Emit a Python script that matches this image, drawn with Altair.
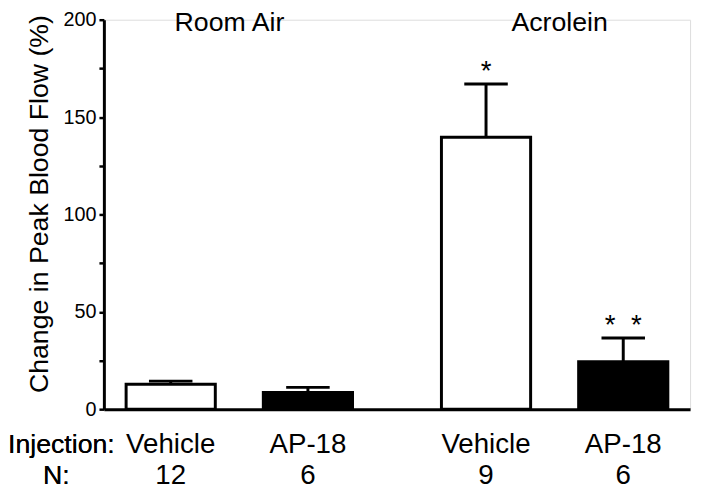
import altair as alt
import pandas as pd

# ---- data ----
groups = ["Room Air", "Room Air", "Acrolein", "Acrolein"]
treatments = ["Vehicle", "AP-18", "Vehicle", "AP-18"]
means = [12.8, 8.6, 139.6, 24.4]
sems = [1.6, 2.6, 27.4, 12.1]
n_values = ["12", "6", "9", "6"]
significance = ["", "", "*", "*\u00a0\u00a0*"]
group_names = ["Room Air", "Acrolein"]
y_ticks = [0, 25, 50, 75, 100, 125, 150, 175, 200]
row_names = ["Injection:", "N:"]

df = pd.DataFrame({
    "group": groups,
    "treatment": treatments,
    "mean": means,
    "sem": sems,
    "n": n_values,
    "sig": significance,
})
df["upper"] = df["mean"] + df["sem"]
gdf = pd.DataFrame({"group": group_names})

FONT = "Liberation Sans"
W, H = 593, 394
TREAT_ORDER = ["Vehicle", "AP-18"]

x_enc = alt.X("group:N", sort=group_names,
              scale=alt.Scale(paddingInner=0.282, paddingOuter=0.0705),
              axis=alt.Axis(labels=False, ticks=False, title=None,
                            domainColor="black", domainWidth=3))
xoff_enc = alt.XOffset("treatment:N", sort=TREAT_ORDER,
                       scale=alt.Scale(paddingInner=0.35, paddingOuter=0))
y_scale = alt.Scale(domain=[0, 200], nice=False)

bars = alt.Chart(df).mark_bar(stroke="black", strokeWidth=3).encode(
    x=x_enc,
    xOffset=xoff_enc,
    y=alt.Y("mean:Q", scale=y_scale,
            axis=alt.Axis(values=y_ticks,
                          labelExpr="datum.value % 50 == 0 ? datum.label : ''",
                          title="Change in Peak Blood Flow (%)",
                          titleFont=FONT, titleFontSize=27, titleFontWeight="normal",
                          titleColor="black", titlePadding=10, titleY=186,
                          labelFont=FONT, labelFontSize=20, labelColor="black",
                          labelPadding=3, tickSize=5, tickWidth=2.5, tickColor="black",
                          domainColor="black", domainWidth=3, grid=False)),
    fill=alt.Fill("treatment:N",
                  scale=alt.Scale(domain=TREAT_ORDER, range=["white", "black"]),
                  legend=None),
)

x_plain = alt.X("group:N", sort=group_names)
xoff_plain = alt.XOffset("treatment:N", sort=TREAT_ORDER)

err_line = alt.Chart(df).mark_rule(color="black", strokeWidth=3).encode(
    x=x_plain, xOffset=xoff_plain,
    y=alt.Y("mean:Q", scale=y_scale),
    y2="upper:Q",
)

err_cap = alt.Chart(df).mark_tick(color="black", thickness=3, size=44, opacity=1).encode(
    x=x_plain, xOffset=xoff_plain,
    y=alt.Y("upper:Q", scale=y_scale),
)

stars = alt.Chart(df).mark_text(font=FONT, fontSize=28, color="black",
                                baseline="alphabetic", dy=-4).encode(
    x=x_plain, xOffset=xoff_plain,
    y=alt.Y("upper:Q", scale=y_scale),
    text="sig:N",
)

treat_labels = alt.Chart(df).mark_text(font=FONT, fontSize=28, color="black",
                                       baseline="alphabetic").encode(
    x=x_plain, xOffset=xoff_plain,
    y=alt.value(H + 44),
    text="treatment:N",
)

n_labels = alt.Chart(df).mark_text(font=FONT, fontSize=28, color="black",
                                   baseline="alphabetic").encode(
    x=x_plain, xOffset=xoff_plain,
    y=alt.value(H + 76),
    text="n:N",
)

group_label_left = alt.Chart(gdf).transform_filter(
    alt.datum.group == group_names[0]
).mark_text(font=FONT, fontSize=27, color="black", baseline="alphabetic", dx=-10).encode(
    x=x_plain, y=alt.value(11), text="group:N",
)
group_label_right = alt.Chart(gdf).transform_filter(
    alt.datum.group == group_names[1]
).mark_text(font=FONT, fontSize=27, color="black", baseline="alphabetic", dx=5).encode(
    x=x_plain, y=alt.value(11), text="group:N",
)

row_title_1 = alt.Chart(gdf).mark_text(
    font=FONT, fontSize=27, color="black", baseline="alphabetic", align="center"
).encode(x=alt.value(-43), y=alt.value(H + 44), text=alt.value(row_names[0]))
row_title_2 = alt.Chart(gdf).mark_text(
    font=FONT, fontSize=27, color="black", baseline="alphabetic", align="center"
).encode(x=alt.value(-48), y=alt.value(H + 76), text=alt.value(row_names[1]))

chart = alt.layer(
    bars, err_line, err_cap, stars, treat_labels, n_labels,
    group_label_left, group_label_right, row_title_1, row_title_2
).properties(
    width=W, height=H,
    autosize=alt.AutoSizeParams(type="none"),
    padding={"left": 97, "top": 9, "right": 6, "bottom": 86},
).configure_view(stroke=None).configure(background="white")

chart.save("out.html", embed_options={"renderer": "svg", "actions": False})
